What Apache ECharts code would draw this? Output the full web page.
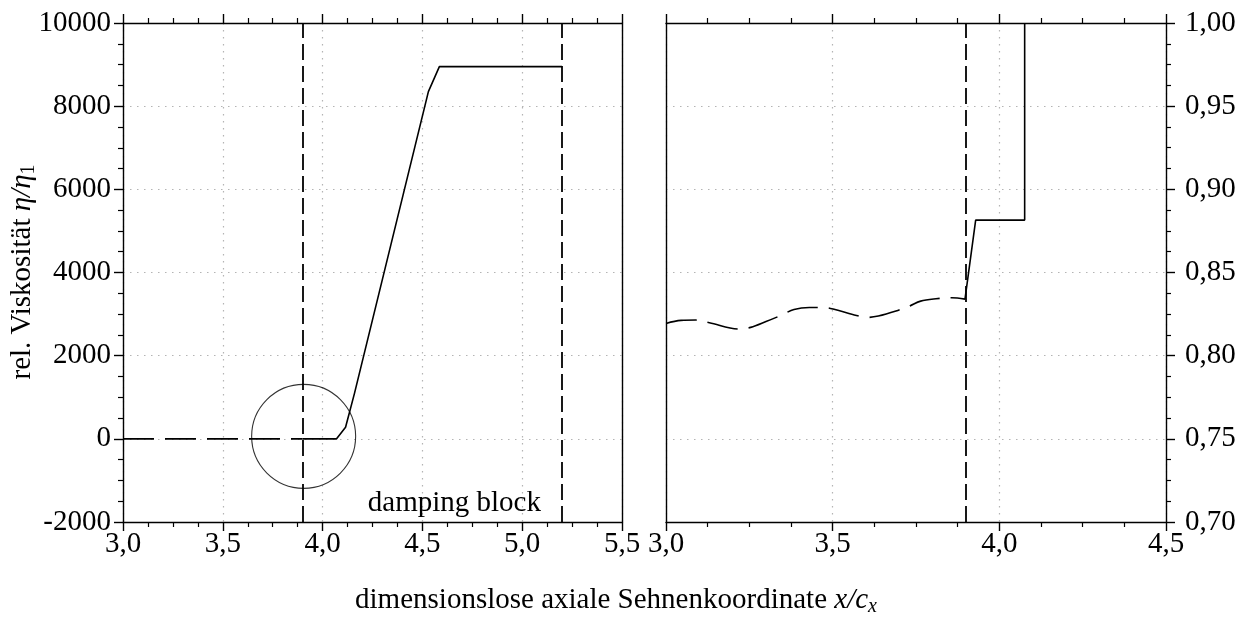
<!DOCTYPE html>
<html>
<head>
<meta charset="utf-8">
<script src="https://cdn.jsdelivr.net/npm/echarts@6/dist/echarts.min.js"></script>
<style>
  html, body { margin: 0; padding: 0; background: #fff; }
  #chart { width: 1251px; height: 623px; }
</style>
</head>
<body>
<div id="chart"></div>
<script>
// Relative viscosity along the axial chord, full view (left) and detail (right)
const upstreamLeft = [[3.0, 0], [3.9, 0]];
const blockLeft = [[3.9, 0], [4.07, 0], [4.115, 280], [4.16, 1100], [4.53, 8350], [4.585, 8950], [5.2, 8950]];
const upstreamRight = [
  [3.000, 0.8194], [3.045, 0.8212], [3.090, 0.8214], [3.130, 0.8198], [3.222, 0.8160],
  [3.254, 0.8170], [3.300, 0.8205], [3.347, 0.8244], [3.384, 0.8278], [3.430, 0.8290],
  [3.474, 0.8290], [3.507, 0.8278], [3.560, 0.8248], [3.604, 0.8230], [3.637, 0.8238],
  [3.690, 0.8268], [3.730, 0.8298], [3.764, 0.8328], [3.810, 0.8342], [3.857, 0.8348],
  [3.897, 0.8340]
];
const blockRight = [[3.897, 0.8340], [3.929, 0.8815], [4.076, 0.8815], [4.076, 1.0]];
const blockEdgesLeft = [3.9, 5.2];
const blockEdgesRight = [3.9];
const detailMarker = [[3.905, 60]];
const blockLabel = { text: 'damping block', at: [4.66, -1560] };

const FONT = 'Liberation Serif';
const FS = 29;
const INK = '#000';
const GRIDLINE = { show: true, lineStyle: { color: '#b4b4b4', width: 1.2, type: [1.5, 5.5] } };

const commaFmt = d => v => v.toFixed(d).replace('.', ',');

function frameAxis(base) {
  return Object.assign({
    type: 'value',
    axisLine: { show: true, onZero: false, lineStyle: { color: INK, width: 1.4 } },
    axisTick: { show: true, inside: false, length: 9, lineStyle: { color: INK, width: 1.4 } },
    minorTick: { show: true, splitNumber: 4, length: 5, lineStyle: { color: INK, width: 1.2 } },
    axisLabel: { show: false },
    splitLine: { show: false }
  }, base);
}
const label = (fmt, margin) => ({ show: true, formatter: fmt, color: INK, fontFamily: FONT, fontSize: FS, margin: margin });
const bare = { axisTick: { show: false }, minorTick: { show: false } };

const chart = echarts.init(document.getElementById('chart'), null, { renderer: 'canvas' });

const option = {
  animation: false,
  backgroundColor: '#fff',
  grid: [
    { left: 123, top: 23, width: 499, height: 499 },
    { left: 666, top: 23, width: 500, height: 499 }
  ],
  xAxis: [
    frameAxis({ gridIndex: 0, position: 'bottom', min: 3, max: 5.5, interval: 0.5,
      axisLabel: label(commaFmt(1), 8), splitLine: GRIDLINE }),
    frameAxis({ gridIndex: 0, position: 'top', min: 3, max: 5.5, interval: 0.5 }),
    frameAxis({ gridIndex: 1, position: 'bottom', min: 3, max: 4.5, interval: 0.5,
      axisLabel: label(commaFmt(1), 8), splitLine: GRIDLINE }),
    frameAxis({ gridIndex: 1, position: 'top', min: 3, max: 4.5, interval: 0.5 })
  ],
  yAxis: [
    frameAxis({ gridIndex: 0, position: 'left', min: -2000, max: 10000, interval: 2000,
      axisLabel: label(v => String(v), 12), splitLine: GRIDLINE }),
    frameAxis(Object.assign({ gridIndex: 0, position: 'right', min: -2000, max: 10000, interval: 2000 }, bare)),
    frameAxis({ gridIndex: 1, position: 'right', min: 0.7, max: 1.0, interval: 0.05,
      axisLabel: label(commaFmt(2), 19), splitLine: GRIDLINE }),
    frameAxis(Object.assign({ gridIndex: 1, position: 'left', min: 0.7, max: 1.0, interval: 0.05 }, bare))
  ],
  series: [
    {
      type: 'line', xAxisIndex: 0, yAxisIndex: 0, data: upstreamLeft, symbol: 'none',
      lineStyle: { color: INK, width: 1.6, type: [31, 11] }
    },
    {
      type: 'line', xAxisIndex: 0, yAxisIndex: 0, data: blockLeft, symbol: 'none',
      lineStyle: { color: INK, width: 1.6 },
      markLine: {
        silent: true, symbol: 'none', label: { show: false },
        lineStyle: { color: INK, width: 1.8, type: [16, 6] },
        data: blockEdgesLeft.map(x => ({ xAxis: x }))
      }
    },
    {
      type: 'scatter', xAxisIndex: 0, yAxisIndex: 0, data: detailMarker, symbol: 'circle', symbolSize: 104,
      itemStyle: { color: 'rgba(0,0,0,0)', borderColor: INK, borderWidth: 1.1 }, z: 5
    },
    {
      type: 'line', xAxisIndex: 2, yAxisIndex: 2, data: upstreamRight, symbol: 'none', smooth: 0.35,
      lineStyle: { color: INK, width: 1.6, type: [31, 11] }
    },
    {
      type: 'line', xAxisIndex: 2, yAxisIndex: 2, data: blockRight, symbol: 'none',
      lineStyle: { color: INK, width: 1.6 },
      markLine: {
        silent: true, symbol: 'none', label: { show: false },
        lineStyle: { color: INK, width: 1.8, type: [16, 6] },
        data: blockEdgesRight.map(x => ({ xAxis: x }))
      }
    }
  ]
};
chart.setOption(option);

// Annotation and axis titles
const labelPos = chart.convertToPixel({ gridIndex: 0 }, blockLabel.at);
chart.setOption({
  graphic: [
    {
      type: 'text', x: labelPos[0], y: labelPos[1], z: 10,
      style: { text: blockLabel.text, fill: INK, font: FS + 'px "' + FONT + '"', align: 'center', verticalAlign: 'middle' }
    },
    {
      type: 'text', x: 616, y: 600, z: 10,
      style: {
        text: '{n|dimensionslose axiale Sehnenkoordinate }{i|x/c}{s|x}',
        align: 'center', verticalAlign: 'middle',
        rich: {
          n: { fontFamily: FONT, fontSize: FS, fill: INK, lineHeight: 34 },
          i: { fontFamily: FONT, fontSize: FS, fontStyle: 'italic', fill: INK, lineHeight: 34 },
          s: { fontFamily: FONT, fontSize: 20, fontStyle: 'italic', fill: INK, lineHeight: 20, verticalAlign: 'bottom' }
        }
      }
    },
    {
      type: 'text', x: 22, y: 272, rotation: Math.PI / 2, z: 10,
      style: {
        text: '{n|rel. Viskosität }{i|η/η}{s|1}',
        align: 'center', verticalAlign: 'middle',
        rich: {
          n: { fontFamily: FONT, fontSize: FS, fill: INK, lineHeight: 34 },
          i: { fontFamily: FONT, fontSize: FS, fontStyle: 'italic', fill: INK, lineHeight: 34 },
          s: { fontFamily: FONT, fontSize: 20, fill: INK, lineHeight: 20, verticalAlign: 'bottom' }
        }
      }
    }
  ]
});
</script>
</body>
</html>
